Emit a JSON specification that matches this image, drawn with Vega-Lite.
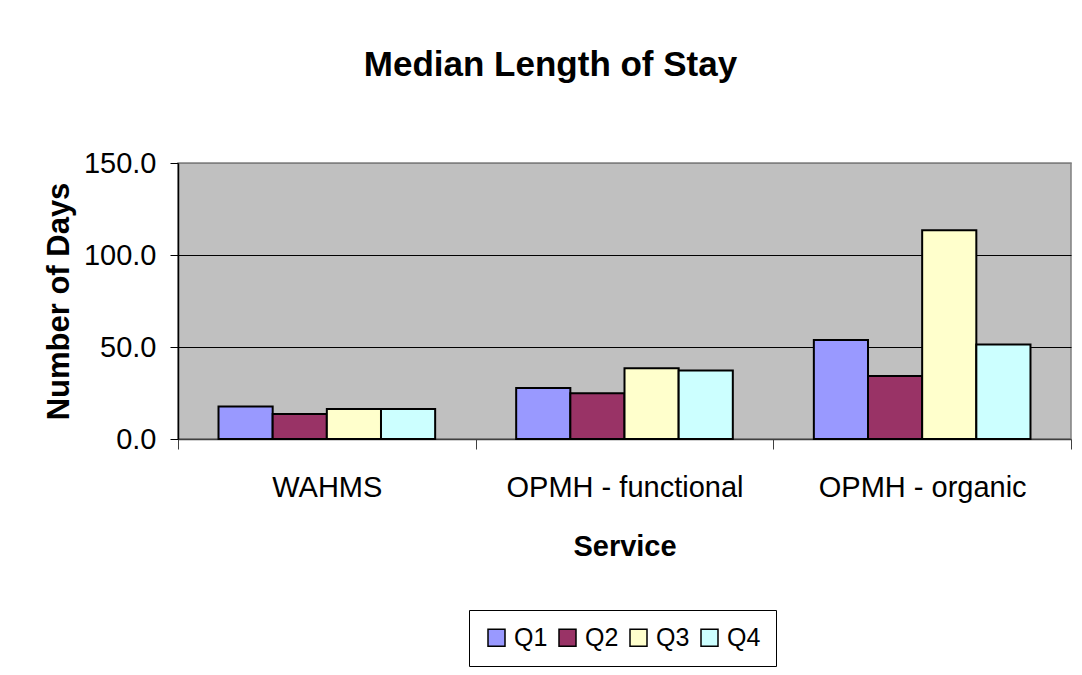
{
  "$schema": "https://vega.github.io/schema/vega-lite/v6.json",
  "autosize": "none",
  "width": 893,
  "height": 276,
  "padding": {"left": 178, "top": 163, "right": 11, "bottom": 236},
  "background": "white",
  "title": {
    "text": "Median Length of Stay",
    "font": "Liberation Sans",
    "fontSize": 35,
    "fontWeight": "bold",
    "color": "black",
    "anchor": "middle",
    "dx": -74,
    "offset": 38,
    "baseline": "alphabetic"
  },
  "data": {
    "values": [
      {"service": "WAHMS", "quarter": "Q1", "days": 17.7},
      {"service": "WAHMS", "quarter": "Q2", "days": 13.6},
      {"service": "WAHMS", "quarter": "Q3", "days": 16.3},
      {"service": "WAHMS", "quarter": "Q4", "days": 16.3},
      {"service": "OPMH - functional", "quarter": "Q1", "days": 27.7},
      {"service": "OPMH - functional", "quarter": "Q2", "days": 24.8},
      {"service": "OPMH - functional", "quarter": "Q3", "days": 38.4},
      {"service": "OPMH - functional", "quarter": "Q4", "days": 37.2},
      {"service": "OPMH - organic", "quarter": "Q1", "days": 53.8},
      {"service": "OPMH - organic", "quarter": "Q2", "days": 34.3},
      {"service": "OPMH - organic", "quarter": "Q3", "days": 113.4},
      {"service": "OPMH - organic", "quarter": "Q4", "days": 51.3}
    ]
  },
  "mark": {"type": "bar", "stroke": "black", "strokeWidth": 2},
  "encoding": {
    "x": {
      "field": "service",
      "type": "nominal",
      "sort": ["WAHMS", "OPMH - functional", "OPMH - organic"],
      "scale": {"paddingInner": 0, "paddingOuter": 0},
      "axis": {
        "title": "Service",
        "titleFont": "Liberation Sans",
        "titleFontSize": 29,
        "titleFontWeight": "bold",
        "titleColor": "black",
        "titlePadding": 30,
        "labelFont": "Liberation Sans",
        "labelFontSize": 29,
        "labelColor": "black",
        "labelAngle": 0,
        "labelPadding": 24,
        "labelLimit": 0,
        "tickBand": "extent",
        "tickSize": 10,
        "tickColor": "#404040",
        "domainColor": "#404040",
        "domainWidth": 1.5,
        "grid": false
      }
    },
    "xOffset": {
      "field": "quarter",
      "type": "nominal",
      "scale": {"paddingInner": 0, "paddingOuter": 0.748}
    },
    "y": {
      "field": "days",
      "type": "quantitative",
      "scale": {"domain": [0, 150], "nice": false},
      "axis": {
        "title": "Number of Days",
        "titleFont": "Liberation Sans",
        "titleFontSize": 31,
        "titleFontWeight": "bold",
        "titleColor": "black",
        "titlePadding": 8,
        "labelFont": "Liberation Sans",
        "labelFontSize": 29,
        "labelColor": "black",
        "labelPadding": 14,
        "values": [0, 50, 100, 150],
        "format": ".1f",
        "tickSize": 8,
        "tickColor": "black",
        "domainColor": "black",
        "domainWidth": 1.5,
        "grid": true,
        "gridColor": {"condition": {"test": "datum.value === 150 || datum.value === 0", "value": "#808080"}, "value": "black"},
        "gridWidth": 1.2,
        "gridOpacity": 1
      }
    },
    "color": {
      "field": "quarter",
      "type": "nominal",
      "scale": {
        "domain": ["Q1", "Q2", "Q3", "Q4"],
        "range": ["#9999FF", "#993366", "#FFFFCC", "#CCFFFF"]
      },
      "legend": {
        "title": null,
        "orient": "none",
        "legendX": 291,
        "legendY": 447,
        "direction": "horizontal",
        "symbolType": "square",
        "symbolSize": 289,
        "symbolStrokeColor": "black",
        "symbolStrokeWidth": 1.5,
        "symbolOpacity": 1,
        "labelFont": "Liberation Sans",
        "labelFontSize": 25,
        "labelColor": "black",
        "labelOffset": 5,
        "columnPadding": 7,
        "padding": 15,
        "strokeColor": "black",
        "fillColor": "white"
      }
    }
  },
  "config": {
    "view": {"fill": "#C0C0C0", "stroke": "#808080", "strokeWidth": 1.5}
  }
}
